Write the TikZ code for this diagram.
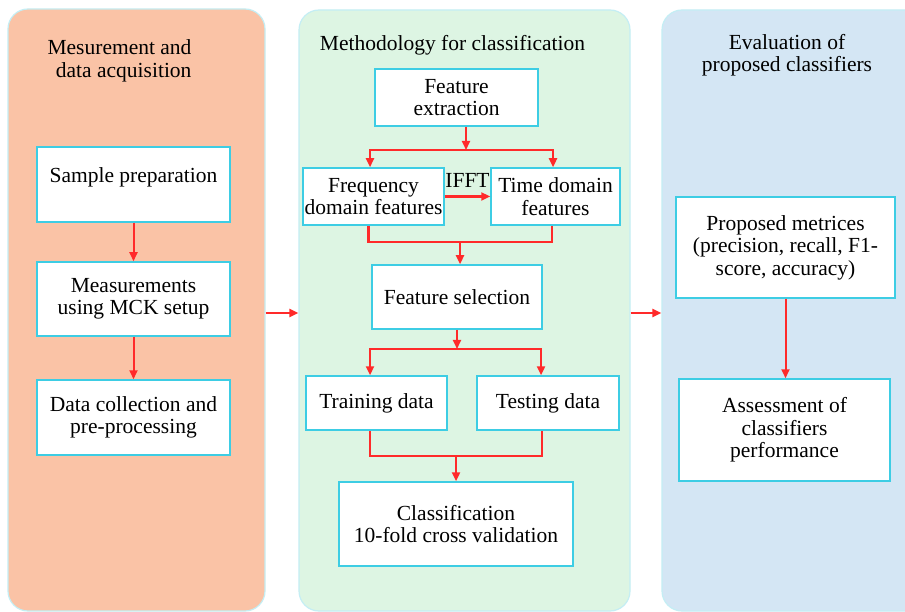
\documentclass[tikz,border=0pt]{standalone}
\usepackage{fontspec}
\setmainfont{Liberation Serif}
\newfontfamily\tnr{Liberation Serif}
\usetikzlibrary{arrows.meta,calc}
\definecolor{peach}{HTML}{FAC3A6}
\definecolor{mint}{HTML}{DDF5E3}
\definecolor{sky}{HTML}{D4E6F4}
\definecolor{pborder}{HTML}{C4EEF4}
\definecolor{bborder}{HTML}{3DCDE4}
\definecolor{ared}{HTML}{FF2A2A}
\begin{document}
\begin{tikzpicture}[x=1pt,y=1pt,
  every node/.style={font=\tnr\fontsize{21.5}{22.5}\selectfont},
  panel/.style={draw=pborder, line width=1.2pt, rounded corners=20pt, inner sep=0},
  box/.style={draw=bborder, fill=white, line width=1.5pt, inner sep=0, align=center},
  link/.style={draw=ared, line width=2pt},
  bus/.style={draw=ared, line width=2.6pt},
  tip/.style={-{Triangle[length=9pt,width=8pt]}}]
\fill[white] (0,0) rectangle (905,-612);
\clip (0,0) rectangle (905,-612);
\useasboundingbox (0,0) rectangle (905,-612);
% panels
\node[panel, fill=peach, minimum width=257pt, minimum height=602pt] (P1) at (136.5,-310) {};
\node[panel, fill=mint, minimum width=331pt, minimum height=601pt] (P2) at (464.5,-310.5) {};
\node[panel, fill=sky, minimum width=263pt, minimum height=601pt] (P3) at (793.5,-310.5) {};
% titles
\node[align=right, anchor=east] (t1) at (195,-61) {Mesurement and\\data acquisition};
\node (t2) at (452.5,-45) {Methodology for classification};
\node[align=center] (t3) at (787,-55) {Evaluation of\\proposed classifiers};
% left boxes
\node[box, minimum width=193pt, minimum height=75pt, text depth=19pt] (sp) at (133.5,-184.5) {Sample preparation};
\node[box, minimum width=193pt, minimum height=74pt] (ms) at (133.5,-299) {Measurements\\using MCK setup};
\node[box, minimum width=193pt, minimum height=75pt] (dc) at (133.5,-417.5) {Data collection and\\pre-processing};
% middle boxes
\node[box, minimum width=163pt, minimum height=57pt] (fe) at (456.5,-97.5) {Feature\\extraction};
\node[box, minimum width=141pt, minimum height=57pt] (fd) at (373.5,-196.5) {Frequency\\domain features};
\node[box, minimum width=129pt, minimum height=57pt] (td) at (555.5,-196.5) {Time domain\\features};
\node[box, minimum width=170pt, minimum height=64pt] (fs) at (457,-297) {Feature selection};
\node[box, minimum width=141pt, minimum height=54pt] (tr) at (376.5,-403) {Training data};
\node[box, minimum width=142pt, minimum height=54pt] (te) at (548,-403) {Testing data};
\node[box, minimum width=234pt, minimum height=84pt] (cl) at (456,-524) {Classification\\10-fold cross validation};
% right boxes
\node[box, minimum width=219pt, minimum height=101pt] (pm) at (785.5,-247.5) {Proposed metrices\\(precision, recall, F1-\\score, accuracy)};
\node[box, minimum width=211pt, minimum height=102pt] (as) at (784.5,-430) {Assessment of\\classifiers\\performance};
% left connectors
\draw[link,tip] (sp) -- (ms);
\draw[link,tip] (ms) -- (dc);
% middle connectors
\coordinate (j1) at (466,-150);
\draw[link,tip] (fe.south -| j1) -- (j1);
\draw[bus,tip] (j1) -| ([xshift=-3.5pt]fd.north);
\draw[bus,tip] (j1) -| ([xshift=-2.5pt]td.north);
\draw[bus,tip] (fd.east) -- node[above=8pt, inner sep=0] (ifft) {IFFT} (td.west);
\coordinate (j2) at (460,-242);
\draw[bus] ([xshift=-5pt]fd.south) |- (j2) -| ([xshift=-3.5pt]td.south);
\draw[bus,tip] (j2) -- (j2 |- fs.north);
\coordinate (j3) at (457,-349);
\draw[link,tip] (fs.south -| j3) -- (j3);
\draw[bus,tip] (j3) -| ([xshift=-6.5pt]tr.north);
\draw[bus,tip] (j3) -| ([xshift=-7pt]te.north);
\coordinate (j4) at (456,-456);
\draw[bus] ([xshift=-6.5pt]tr.south) |- (j4) -| ([xshift=-6pt]te.south);
\draw[bus,tip] (j4) -- (cl.north);
% right connector
\draw[link,tip] (pm.south) -- (pm.south |- as.north);
% inter-panel arrows
\coordinate (ya) at (0,-313);
\draw[link,tip] (P1.east |- ya) -- (P2.west |- ya);
\draw[link,tip] (P2.east |- ya) -- (P3.west |- ya);
\end{tikzpicture}
\end{document}
